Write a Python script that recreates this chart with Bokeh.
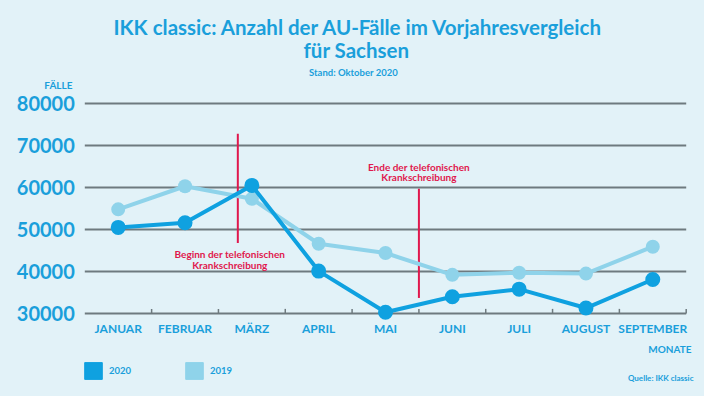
from bokeh.plotting import figure
from bokeh.models import (Range1d, FixedTicker, NumeralTickFormatter, Label,
                          Legend, LegendItem)
from bokeh.core.properties import value
from bokeh.embed import file_html
from bokeh.resources import INLINE

# ---------------- data ----------------
months = ["JANUAR", "FEBRUAR", "MÄRZ", "APRIL", "MAI", "JUNI", "JULI", "AUGUST", "SEPTEMBER"]
cases_2020 = [50500, 51600, 60500, 40100, 30300, 34000, 35800, 31300, 38100]
cases_2019 = [54800, 60300, 57300, 46600, 44400, 39200, 39700, 39500, 45900]
y_ticks = [30000, 40000, 50000, 60000, 70000, 80000]

event_x = [2.29, 5.0]
event_y0 = [46800, 33700]
event_y1 = [72800, 59700]
event_text_x = [2.17, 2.17, 5.0, 5.0]
event_text_y = [44050, 41500, 65000, 62400]
event_text = ["Beginn der telefonischen", "Krankschreibung",
              "Ende der telefonischen", "Krankschreibung"]

title_1 = "IKK classic: Anzahl der AU-Fälle im Vorjahresvergleich"
title_2 = "für Sachsen"
subtitle = "Stand: Oktober 2020"
y_title = "FÄLLE"
x_title = "MONATE"
source_text = "Quelle: IKK classic"
series_names = ["2020", "2019"]

# ---------------- style / layout ----------------
BG = "#e2f2f8"
BLUE = "#0fa1e0"
LIGHT = "#8fd3ea"
TXT = "#1a9fdb"
RED = "#e0184d"
GRID = "#6e7a7f"
FONT = "Lato"

W, H = 688, 380
PLOT_L, PLOT_R = 76.3, 677.7          # canvas px of first / last month boundary
Y_TOP_PX, Y_BOT_PX = 95.0, 305.0      # canvas px of top / bottom tick value
n = len(months)
PXX = (PLOT_R - PLOT_L) / n
PXY = (Y_BOT_PX - Y_TOP_PX) / (y_ticks[-1] - y_ticks[0])
x_start, x_end = -PLOT_L / PXX, (W - PLOT_L) / PXX
y_end = y_ticks[-1] + Y_TOP_PX / PXY
y_start = y_ticks[0] - (H - Y_BOT_PX) / PXY


def py(page_y):
    return y_end - (page_y - 8) / PXY


def px(page_x):
    return x_start + (page_x - 8) / PXX


xs = [i + 0.5 for i in range(n)]

p = figure(width=W, height=H, x_range=Range1d(x_start, x_end),
           y_range=Range1d(y_start, y_end), output_backend="svg",
           toolbar_location=None, min_border=0, title=None)
p.background_fill_color = BG
p.border_fill_color = BG
p.outline_line_color = None
p.xgrid.visible = False
p.ygrid.visible = False

# grid lines limited to the month span
p.segment(x0=[0] * len(y_ticks), x1=[n] * len(y_ticks), y0=y_ticks, y1=y_ticks,
          line_color=GRID, line_width=2)

# y axis
p.yaxis.fixed_location = 0
p.yaxis.ticker = FixedTicker(ticks=y_ticks)
p.yaxis.formatter = NumeralTickFormatter(format="0")
p.yaxis.axis_line_color = None
p.yaxis.major_tick_line_color = None
p.yaxis.minor_tick_line_color = None
p.yaxis.major_tick_out = 0
p.yaxis.major_tick_in = 0
p.yaxis.major_label_standoff = 10
p.yaxis.major_label_text_font = FONT
p.yaxis.major_label_text_font_style = "bold"
p.yaxis.major_label_text_font_size = "20px"
p.yaxis.major_label_text_color = TXT

# x axis
p.xaxis.fixed_location = y_ticks[0]
p.xaxis.ticker = FixedTicker(ticks=xs)
p.xaxis.major_label_overrides = {x: m for x, m in zip(xs, months)}
p.xaxis.axis_line_color = None
p.xaxis.major_tick_line_color = None
p.xaxis.minor_tick_line_color = None
p.xaxis.major_tick_out = 0
p.xaxis.major_tick_in = 0
p.xaxis.major_label_standoff = 7
p.xaxis.major_label_text_font = FONT
p.xaxis.major_label_text_font_style = "bold"
p.xaxis.major_label_text_font_size = "12px"
p.xaxis.major_label_text_color = TXT

# small boundary ticks on the base line
bounds = list(range(1, n + 1))
p.segment(x0=bounds, x1=bounds, y0=[y_ticks[0]] * n,
          y1=[y_ticks[0] + 1100] * n, line_color=GRID, line_width=1.5)

# event lines and notes
p.segment(x0=event_x, x1=event_x, y0=event_y0, y1=event_y1, line_color=RED, line_width=2)
p.text(x=event_text_x, y=event_text_y, text=event_text, text_align="center",
       text_baseline="middle", text_color=RED, text_font=value(FONT),
       text_font_style="bold", text_font_size="10px")

# series
p.line(xs, cases_2019, line_color=LIGHT, line_width=4)
p.scatter(xs, cases_2019, size=14, fill_color=LIGHT, line_color=None)
p.line(xs, cases_2020, line_color=BLUE, line_width=4)
p.scatter(xs, cases_2020, size=15, fill_color=BLUE, line_color=None)

# legend (swatches only, no visible data)
nan = float("nan")
r20 = p.quad(left=[nan], right=[nan], top=[nan], bottom=[nan], fill_color=BLUE, line_color=BLUE)
r19 = p.quad(left=[nan], right=[nan], top=[nan], bottom=[nan], fill_color=LIGHT, line_color=LIGHT)
legend = Legend(items=[LegendItem(label=series_names[0], renderers=[r20]),
                       LegendItem(label=series_names[1], renderers=[r19])],
                orientation="horizontal", location=(74, 7),
                glyph_width=22, glyph_height=21, label_standoff=5, spacing=52,
                padding=0, margin=0, border_line_color=None, background_fill_alpha=0,
                label_text_font=FONT, label_text_font_style="bold",
                label_text_font_size="9.5px", label_text_color=TXT, label_height=21)
p.add_layout(legend)


def lab(text, page_x, page_y, size, align="center"):
    p.add_layout(Label(x=px(page_x), y=py(page_y), text=text, text_align=align,
                       text_baseline="middle", text_color=TXT, text_font=FONT,
                       text_font_style="bold", text_font_size=size))


lab(title_1, 358, 26, "20.5px")
lab(title_2, 356, 49, "20.5px")
lab(subtitle, 353, 71.5, "9.5px")
lab(y_title, 72, 84.5, "10px", "right")
lab(x_title, 691, 348.5, "10px", "right")
lab(source_text, 693, 377.5, "8px", "right")

html = file_html(p, INLINE)
html = html.replace("<body>", '<body style="margin:8px;background-color:%s;">' % BG)
open("out.html", "w").write(html)
